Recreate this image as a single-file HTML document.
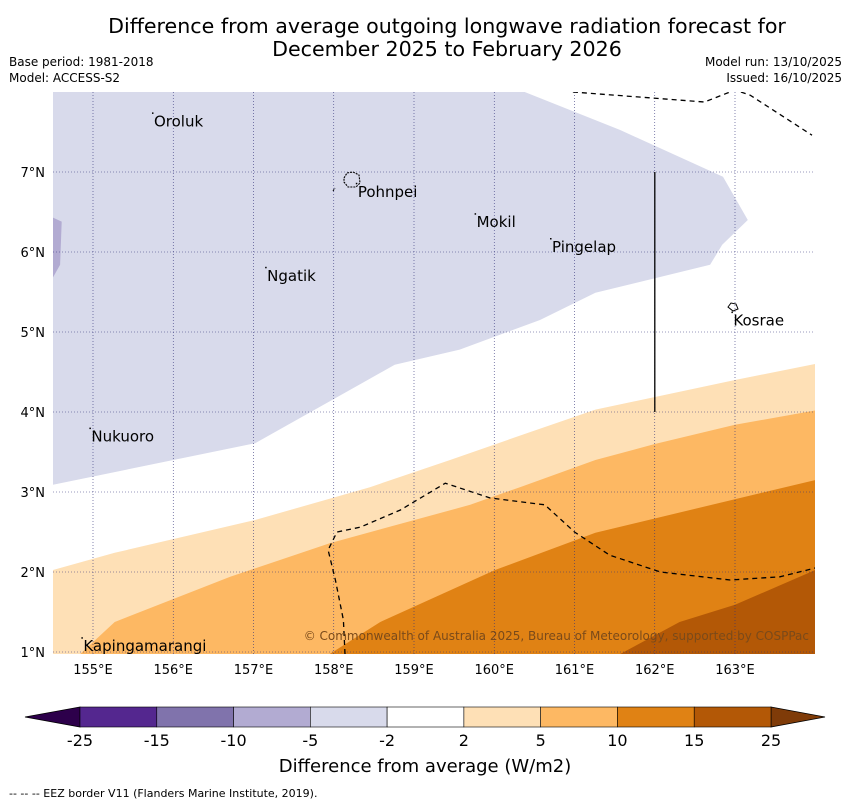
<!DOCTYPE html>
<html><head><meta charset="utf-8"><style>
body{margin:0;background:#fff;font-family:"Liberation Sans","DejaVu Sans",sans-serif}
svg text{font-family:"DejaVu Sans","Liberation Sans",sans-serif}
</style></head><body>
<svg id="c" width="850" height="804" viewBox="0 0 850 804" xmlns="http://www.w3.org/2000/svg">
<text x="447" y="33" font-size="20.6" text-anchor="middle">Difference from average outgoing longwave radiation forecast for</text>
<text x="447" y="56" font-size="20.6" text-anchor="middle">December 2025 to February 2026</text>
<text x="9" y="66" font-size="12">Base period: 1981-2018</text>
<text x="9" y="82" font-size="12">Model: ACCESS-S2</text>
<text x="842" y="66" font-size="12" text-anchor="end">Model run: 13/10/2025</text>
<text x="842" y="82" font-size="12" text-anchor="end">Issued: 16/10/2025</text>
<g id="map"></g>
<g id="cb"></g>
<text x="425" y="772" font-size="18" text-anchor="middle">Difference from average (W/m2)</text>
<text x="9" y="797" font-size="11">-- -- -- EEZ border V11 (Flanders Marine Institute, 2019).</text>
</svg>
<script>
const lonTicks=[155,156,157,158,159,160,161,162,163];
const latTicks=[1,2,3,4,5,6,7];
const levels=["-25","-15","-10","-5","-2","2","5","10","15","25"];
const levelColors=["#54278f","#8073ac","#b2abd2","#d8daeb","#ffffff","#fee0b6","#fdb863","#e08214","#b35806"];
const bandLavender=[[154.5,8],[160.38,8],[161.57,7.525],[162.85,6.94],[163.16,6.4],[162.84,6.09],[162.69,5.84],[161.26,5.49],[160.57,5.15],[159.57,4.78],[158.76,4.59],[157.02,3.61],[154.5,3.09]];
const bandPurple=[[154.5,6.43],[154.61,6.38],[154.59,5.84],[154.5,5.68]];
const band2to5=[[154.5,2.025],[155.27,2.24],[157.02,2.65],[158.45,3.06],[159.45,3.4],[160.45,3.75],[161.26,4.03],[163,4.4],[164,4.6],[164,0.975],[154.5,0.975]];
const band5to10=[[154.84,0.975],[155.27,1.375],[156.71,1.94],[157.95,2.36],[159.7,2.84],[160.32,3.06],[161.26,3.4],[162,3.6],[163,3.84],[164,4.02],[164,0.975]];
const band10to15=[[157.95,0.975],[158.58,1.375],[160.01,2.025],[161.26,2.49],[162.44,2.775],[164,3.15],[164,0.975]];
const band15to25=[[161.57,0.975],[162.31,1.375],[163,1.59],[164,2.025],[164,0.975]];
const eezNorth=[[160.98,8],[162.62,7.875],[163,8.025],[163.19,7.96],[163.96,7.46]];
const eezSouth=[[158.14,0.975],[158.12,1.4],[158.02,1.9],[157.93,2.275],[158.04,2.5],[158.33,2.56],[158.83,2.775],[159.39,3.11],[159.95,2.925],[160.63,2.84],[161.0,2.5],[161.44,2.21],[162.07,2.0],[162.94,1.9],[163.56,1.94],[164.0,2.05]];
const borderLine=[[162,7],[162,4]];
const places=[["Oroluk",155.76,7.57],["Pohnpei",158.3,6.69],["Mokil",159.78,6.31],["Pingelap",160.72,6.0],["Ngatik",157.17,5.64],["Kosrae",162.98,5.08],["Nukuoro",154.98,3.63],["Kapingamarangi",154.88,1.01]];
const X=lon=>93+(lon-155)*80.25, Y=lat=>652-(lat-1)*80;
const NS="http://www.w3.org/2000/svg";
function mk(tag,attrs,parent){const e=document.createElementNS(NS,tag);for(const k in attrs)e.setAttribute(k,attrs[k]);parent.appendChild(e);return e;}
const map=document.getElementById('map');
const pts=a=>a.map(p=>X(p[0]).toFixed(1)+','+Y(p[1]).toFixed(1)).join(' ');
const clip=mk('clipPath',{id:'clip'},map);
mk('rect',{x:53,y:92,width:762,height:562},clip);
const g=mk('g',{'clip-path':'url(#clip)'},map);
const bands=[[bandLavender,'#d8daeb','band-lavender'],[bandPurple,'#b2abd2','band-purple'],[band2to5,'#fee0b6','band-2-to-5'],[band5to10,'#fdb863','band-5-to-10'],[band10to15,'#e08214','band-10-to-15'],[band15to25,'#b35806','band-15-to-25']];
bands.forEach(b=>{const p=mk('polygon',{points:pts(b[0]),fill:b[1]},g);

});
lonTicks.forEach(l=>{const ln=mk('line',{x1:X(l),x2:X(l),y1:92,y2:654,stroke:'#33337a','stroke-width':0.6,'stroke-dasharray':'1,2'},g);


const t=mk('text',{x:X(l),y:674,'font-size':13,'text-anchor':'middle'},map);t.textContent=l+'°E';

});
latTicks.forEach(l=>{const ln=mk('line',{x1:53,x2:815,y1:Y(l),y2:Y(l),stroke:'#33337a','stroke-width':0.6,'stroke-dasharray':'1,2'},g);


const t=mk('text',{x:45,y:Y(l)+5,'font-size':13,'text-anchor':'end'},map);t.textContent=l+'°N';

});
[[eezNorth,'eez-north'],[eezSouth,'eez-south']].forEach(e=>{const p=mk('polyline',{points:pts(e[0]),fill:'none',stroke:'#000','stroke-width':1.3,'stroke-dasharray':'5,4'},g);

});
const bl=mk('polyline',{points:pts(borderLine),fill:'none',stroke:'#000','stroke-width':1.3},g);


const ph=mk('path',{d:'M344,178 l3,-5 l6,-1 l6,3 l1,8 l-4,4 l-8,0 l-4,-5 z M333,191 l2,-3',fill:'none',stroke:'#000','stroke-width':1.1,'stroke-dasharray':'2,1'},g);


const ks=mk('path',{d:'M728,307 l3,-4 l5,1 l2,5 l-5,2 z',fill:'none',stroke:'#000','stroke-width':1},g);


places.forEach(p=>{const t=mk('text',{x:X(p[1]),y:Y(p[2]),'font-size':15},g);t.textContent=p[0];


const d=mk('rect',{x:X(p[1])-2,y:Y(p[2])-14,width:1.5,height:1.5,fill:'#000'},g);

});
const cp=mk('text',{x:809,y:640,'font-size':12,'text-anchor':'end',fill:'#7a4a1a'},g);cp.textContent='© Commonwealth of Australia 2025, Bureau of Meteorology, supported by COSPPac';


const cb=document.getElementById('cb');
const x0=80,x1=771,w=(x1-x0)/levelColors.length,yt=707,h=20;
const lt=mk('polygon',{points:`${x0},${yt} 25,${yt+h/2} ${x0},${yt+h}`,fill:'#2d004b',stroke:'#000','stroke-width':0.8},cb);


const rt=mk('polygon',{points:`${x1},${yt} 825,${yt+h/2} ${x1},${yt+h}`,fill:'#7f3b08',stroke:'#000','stroke-width':0.8},cb);


levelColors.forEach((c,i)=>{const r=mk('rect',{x:x0+i*w,y:yt,width:w,height:h,fill:c,stroke:'#000','stroke-width':0.6},cb);

});
levels.forEach((l,i)=>{const t=mk('text',{x:x0+i*w,y:746,'font-size':16,'text-anchor':'middle'},cb);t.textContent=l;

});
</script>
</body></html>
